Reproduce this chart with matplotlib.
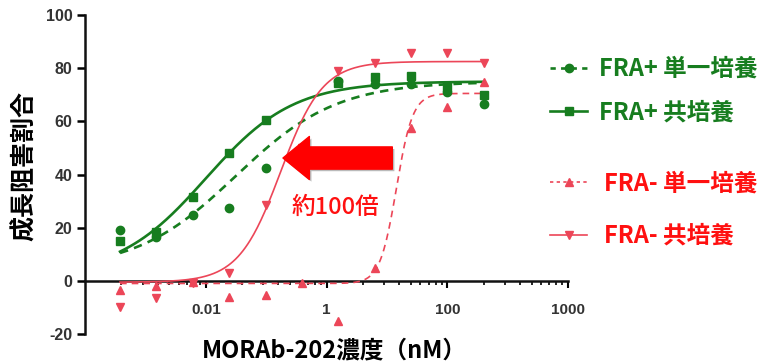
import numpy as np
import matplotlib
matplotlib.use("Agg")
import matplotlib.pyplot as plt
from matplotlib.lines import Line2D
from matplotlib import patheffects

# 日本語表示
plt.rcParams['font.family'] = ['Noto Sans CJK JP', 'DejaVu Sans']
plt.rcParams['axes.unicode_minus'] = False

# MORAb-202 濃度 (nM) 4倍希釈系列
conc = [0.00038, 0.0015, 0.0061, 0.024, 0.098, 0.39, 1.56, 6.25, 25, 100, 400]

# 成長阻害割合 (%)
fra_pos_mono = [19, 16.5, 24.8, 27.4, 42.5, np.nan, 75.1, 74, 74, 71, 66.5]
fra_pos_co = [15, 18.4, 31.6, 48, 60.5, np.nan, 74.5, 76.5, 77, 73, 70]
fra_neg_mono = [-3.4, -2, -0.5, -6, -5.3, -1, -15, 5, 57.5, 65.4, 74.8]
fra_neg_co = [-10, -6.5, -1, 3, 28.5, 50, 79, 82, 85.6, 85.6, 82]

# 4パラメータロジスティック: bottom, top, logEC50, hill slope
fit_pos_mono = (4, 75, -1.5, 0.52)
fit_pos_co = (2, 75, -2.0, 0.6)
fit_neg_mono = (-1, 70.5, 1.157, 3.2)
fit_neg_co = (-0.5, 82.5, -0.76, 1.25)

labels = ["FRA+ 単一培養", "FRA+ 共培養", "FRA- 単一培養", "FRA- 共培養"]

GREEN = "#177d1f"
RED = "#ec4658"
RED_TEXT = "#ff1010"


def logistic(x, bottom, top, log_ec50, hill):
    return bottom + (top - bottom) / (1 + 10 ** ((log_ec50 - np.log10(x)) * hill))


fig = plt.figure(figsize=(7.75, 3.64), dpi=100)
ax = fig.add_axes([0.1097, 0.0824, 0.6232, 0.8764])

xs = np.logspace(np.log10(conc[0]), np.log10(conc[-1]), 300)

# フィット曲線
ax.plot(xs, logistic(xs, *fit_pos_mono), color=GREEN, lw=1.9, ls=(0, (3.2, 2.4)), zorder=3)
ax.plot(xs, logistic(xs, *fit_pos_co), color=GREEN, lw=1.9, zorder=3)
ax.plot(xs, logistic(xs, *fit_neg_mono), color=RED, lw=1.2, ls=(0, (4, 3)), zorder=3)
ax.plot(xs, logistic(xs, *fit_neg_co), color=RED, lw=1.2, zorder=3)

# 測定点
ax.plot(conc, fra_pos_mono, ls="none", marker="o", ms=6, color=GREEN, zorder=4)
ax.plot(conc, fra_pos_co, ls="none", marker="s", ms=5.5, color=GREEN, zorder=4)
ax.plot(conc, fra_neg_mono, ls="none", marker="^", ms=5.5, color=RED, zorder=4)
ax.plot(conc, fra_neg_co, ls="none", marker="v", ms=5.5, color=RED, zorder=4)

# 軸
ax.set_xscale("log")
ax.set_xlim(1e-4, 1e4)
ax.set_ylim(-20, 100)
ax.spines["top"].set_visible(False)
ax.spines["right"].set_visible(False)
ax.spines["bottom"].set_position(("data", 0))
for side in ("left", "bottom"):
    ax.spines[side].set_linewidth(1.8)
    ax.spines[side].set_color("#111111")
    ax.spines[side].set_zorder(2.5)

ax.set_xticks([1e-2, 1, 1e2, 1e4])
ax.set_xticklabels(["0.01", "1", "100", "1000"])
minor = [10 ** (s + 2 * np.log10(k)) for s in (-4, -2, 0, 2) for k in range(2, 10)]
ax.set_xticks(minor, minor=True)
ax.xaxis.set_minor_formatter(plt.NullFormatter())
ax.set_yticks([-20, 0, 20, 40, 60, 80, 100])

ax.tick_params(axis="x", which="major", direction="out", length=5, width=1.5, pad=11,
               labelsize=11, labelcolor="#333333", labelfontfamily="Liberation Sans")
ax.tick_params(axis="x", which="minor", direction="out", length=3, width=1.2)
ax.tick_params(axis="y", direction="out", length=6, width=1.8, pad=3,
               labelsize=11.5, labelcolor="#333333", labelfontfamily="Liberation Sans")
for t in ax.get_xticklabels() + ax.get_yticklabels():
    t.set_fontweight("bold")

# 軸ラベル
fig.text(0.032, 0.545, "成長阻害割合", rotation=90, ha="center", va="center",
         fontsize=18, fontweight="bold", color="black")
fig.text(0.432, 0.038, "MORAb-202濃度（nM）", ha="center", va="center",
         fontsize=17, fontweight="bold", color="black")

# 左向き矢印と注記
arrow = ax.annotate("", xy=(0.19, 46.2), xytext=(12.3, 46.2),
                    arrowprops=dict(arrowstyle="simple,head_length=1.9,head_width=3.1,tail_width=1.6",
                                    mutation_scale=10, color="#ff0000", shrinkA=0, shrinkB=0),
                    zorder=5)
arrow.arrow_patch.set_path_effects([
    patheffects.SimplePatchShadow(offset=(1.5, -1.5), shadow_rgbFace="0.55", alpha=0.6),
    patheffects.Normal()])
ax.text(1.41, 27.8, "約100倍", ha="center", va="center", fontsize=17, color=RED_TEXT,
        fontweight="medium", zorder=5)

# 凡例
h_pos = [Line2D([], [], color=GREEN, lw=1.9, ls=(0, (2, 2)), marker="o", ms=6),
         Line2D([], [], color=GREEN, lw=1.9, marker="s", ms=5.5)]
h_neg = [Line2D([], [], color=RED, lw=1.2, ls=(0, (2, 2)), marker="^", ms=5.5),
         Line2D([], [], color=RED, lw=1.2, marker="v", ms=5.5)]
leg1 = fig.legend(h_pos, labels[:2], loc="upper left", bbox_to_anchor=(0.695, 0.876),
                  frameon=False, handlelength=1.55, handletextpad=0.5, labelspacing=0.82,
                  borderpad=0, prop=dict(size=17, weight="bold"), labelcolor=GREEN)
leg2 = fig.legend(h_neg, labels[2:], loc="upper left", bbox_to_anchor=(0.695, 0.561),
                  frameon=False, handlelength=1.55, handletextpad=0.7, labelspacing=1.2,
                  borderpad=0, prop=dict(size=17, weight="bold"), labelcolor=RED_TEXT)

fig.savefig("out.png", dpi=100)
